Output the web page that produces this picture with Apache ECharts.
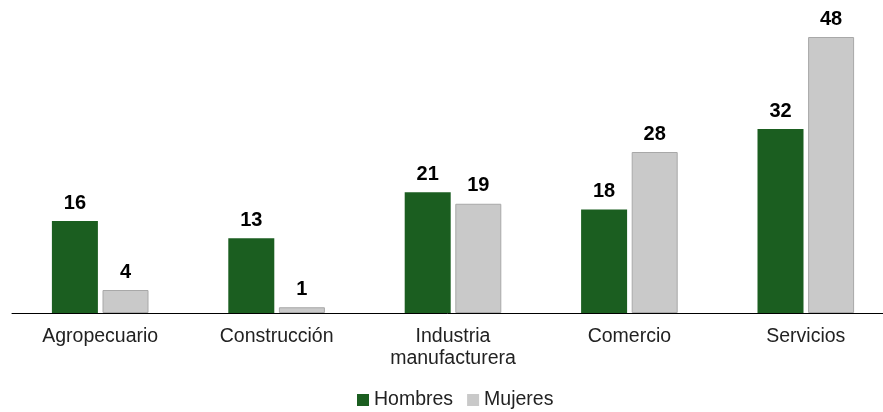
<!DOCTYPE html>
<html>
<head>
<meta charset="utf-8">
<script src="https://cdn.jsdelivr.net/npm/echarts@6/dist/echarts.min.js"></script>
<style>
  html, body { margin: 0; padding: 0; background: #fff; }
  #chart { width: 883px; height: 412px; }
</style>
</head>
<body>
<div id="chart"></div>
<script>
const categories = ["Agropecuario", "Construcción", "Industria\nmanufacturera", "Comercio", "Servicios"];
const hombres = [16, 13, 21, 18, 32];
const mujeres = [4, 1, 19, 28, 48];

const chart = echarts.init(document.getElementById("chart"));

const labelStyle = {
  show: true,
  position: "top",
  distance: 8,
  fontFamily: "Liberation Sans",
  fontSize: 20,
  fontWeight: "bold",
  color: "#000"
};

chart.setOption({
  animation: false,
  textStyle: { fontFamily: "Liberation Sans" },
  grid: { left: 12, top: 37, width: 882, height: 276, containLabel: false, outerBoundsMode: "none" },
  legend: {
    top: 385,
    left: 352,
    itemWidth: 12,
    itemHeight: 12,
    itemGap: 14,
    icon: "rect",
    itemStyle: { borderWidth: 0 },
    textStyle: { fontFamily: "Liberation Sans", fontSize: 19.5, color: "#222", padding: [0, 0, 0, 0] },
    data: ["Hombres", "Mujeres"]
  },
  xAxis: {
    type: "category",
    data: categories,
    axisTick: { show: false },
    axisLine: { lineStyle: { color: "#000", width: 1 } },
    axisLabel: { color: "#222", fontSize: 19.5, margin: 13, lineHeight: 22, interval: 0 }
  },
  yAxis: {
    type: "value",
    min: 0,
    max: 48,
    show: false,
    splitLine: { show: false }
  },
  series: [
    {
      name: "Hombres",
      type: "bar",
      data: hombres,
      barWidth: 46,
      barGap: "10%",
      itemStyle: { color: "#1b5e20" },
      label: labelStyle
    },
    {
      name: "Mujeres",
      type: "bar",
      data: mujeres,
      barWidth: 46,
      itemStyle: { color: "#c9c9c9", borderColor: "#a8a8a8", borderWidth: 1 },
      label: labelStyle
    }
  ]
});

window.addEventListener("resize", () => chart.resize());
</script>
</body>
</html>
